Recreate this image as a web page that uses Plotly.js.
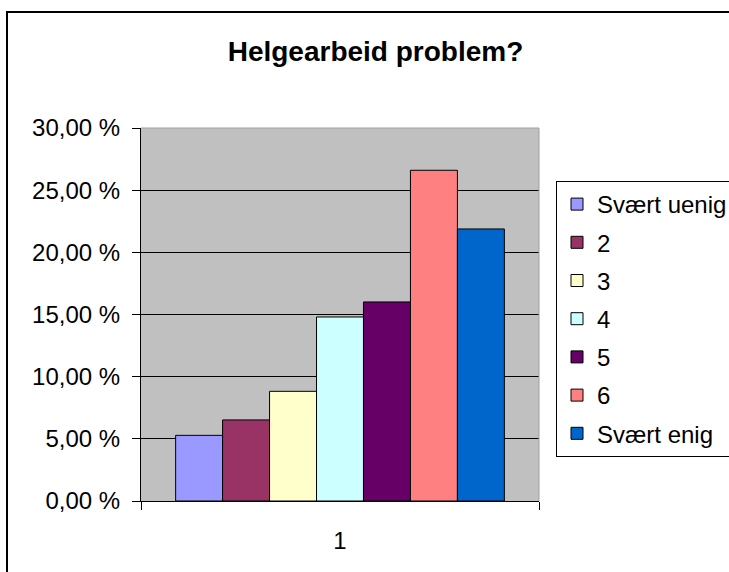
<!DOCTYPE html>
<html>
<head>
<meta charset="utf-8">
<script src="https://cdn.plot.ly/plotly-3.0.1.min.js"></script>
<style>html,body{margin:0;padding:0;background:#fff;}</style>
</head>
<body>
<div id="chart" style="width:729px;height:572px;"></div>
<script>
const categories = ["1"];
const seriesNames = ["Svært uenig", "2", "3", "4", "5", "6", "Svært enig"];
const seriesValues = [5.28, 6.52, 8.82, 14.80, 16.01, 26.60, 21.88];
const seriesColors = ["#9999FF", "#993366", "#FFFFCC", "#CCFFFF", "#660066", "#FF8080", "#0066CC"];
const yTickVals = [0, 5, 10, 15, 20, 25, 30];
const yTickLabels = ["0,00 %", "5,00 %", "10,00 %", "15,00 %", "20,00 %", "25,00 %", "30,00 %"];

const FONT = "Liberation Sans, Arial, sans-serif";

const traces = seriesNames.map((name, i) => ({
  type: "bar",
  name: name,
  x: categories,
  y: [seriesValues[i]],
  legendgroup: "g" + i,
  marker: { color: seriesColors[i], line: { color: "#000000", width: 1 } },
  hoverinfo: "name+y"
}));

const L = 141, R = 539, T = 128, B = 501;
const W = 729, H = 572;
const px2x = p => (p - L) / (R - L);
const px2y = p => (B - p) / (B - T);

const layout = {
  width: W, height: H,
  margin: { l: L, r: W - R, t: T, b: H - B, pad: 0, autoexpand: false },
  paper_bgcolor: "#ffffff",
  plot_bgcolor: "#C0C0C0",
  font: { family: FONT, size: 24, color: "#000000" },
  barmode: "group",
  bargap: 0.174,
  bargroupgap: 0,
  title: {
    text: "<b>Helgearbeid problem?</b>",
    font: { family: FONT, size: 28, color: "#000000" },
    xref: "container", x: 375.5 / W, xanchor: "center",
    yref: "container", y: 1 - 51 / H, yanchor: "middle"
  },
  xaxis: {
    type: "category",
    tickson: "boundaries",
    ticks: "outside", ticklen: 8, tickcolor: "#000000", tickwidth: 1,
    showline: true, linecolor: "#000000", linewidth: 1,
    showgrid: false, zeroline: false,
    ticklabelstandoff: 18,
    automargin: false,
    tickfont: { family: FONT, size: 24, color: "#000000" }
  },
  yaxis: {
    range: [0, 30],
    tickmode: "array",
    tickvals: yTickVals,
    ticktext: yTickLabels,
    ticks: "outside", ticklen: 8, tickcolor: "#000000", tickwidth: 1,
    showline: true, linecolor: "#000000", linewidth: 1,
    showgrid: true, gridcolor: "#000000", gridwidth: 1,
    zeroline: false,
    automargin: false,
    ticklabelstandoff: 7,
    tickfont: { family: FONT, size: 24, color: "#000000" }
  },
  legend: {
    xref: "container", x: 556 / W, xanchor: "left",
    yref: "container", y: 1 - 181 / H, yanchor: "top",
    bgcolor: "#ffffff",
    bordercolor: "#000000", borderwidth: 1,
    tracegroupgap: 4,
    traceorder: "grouped",
    font: { family: FONT, size: 24, color: "#000000" }
  },
  shapes: [
    { type: "rect", xref: "paper", yref: "paper", layer: "below",
      x0: px2x(7), x1: px2x(760), y0: px2y(600), y1: px2y(12),
      line: { color: "#000000", width: 2 }, fillcolor: "rgba(0,0,0,0)" },
    { type: "line", xref: "paper", yref: "paper", layer: "above",
      x0: 0, x1: 1, y0: 1, y1: 1, line: { color: "#A0A0A0", width: 1 } },
    { type: "line", xref: "paper", yref: "paper", layer: "above",
      x0: 1, x1: 1, y0: 0, y1: 1, line: { color: "#A0A0A0", width: 1 } }
  ],
  showlegend: true
};

Plotly.newPlot("chart", traces, layout, { displayModeBar: false, staticPlot: true });
</script>
</body>
</html>
